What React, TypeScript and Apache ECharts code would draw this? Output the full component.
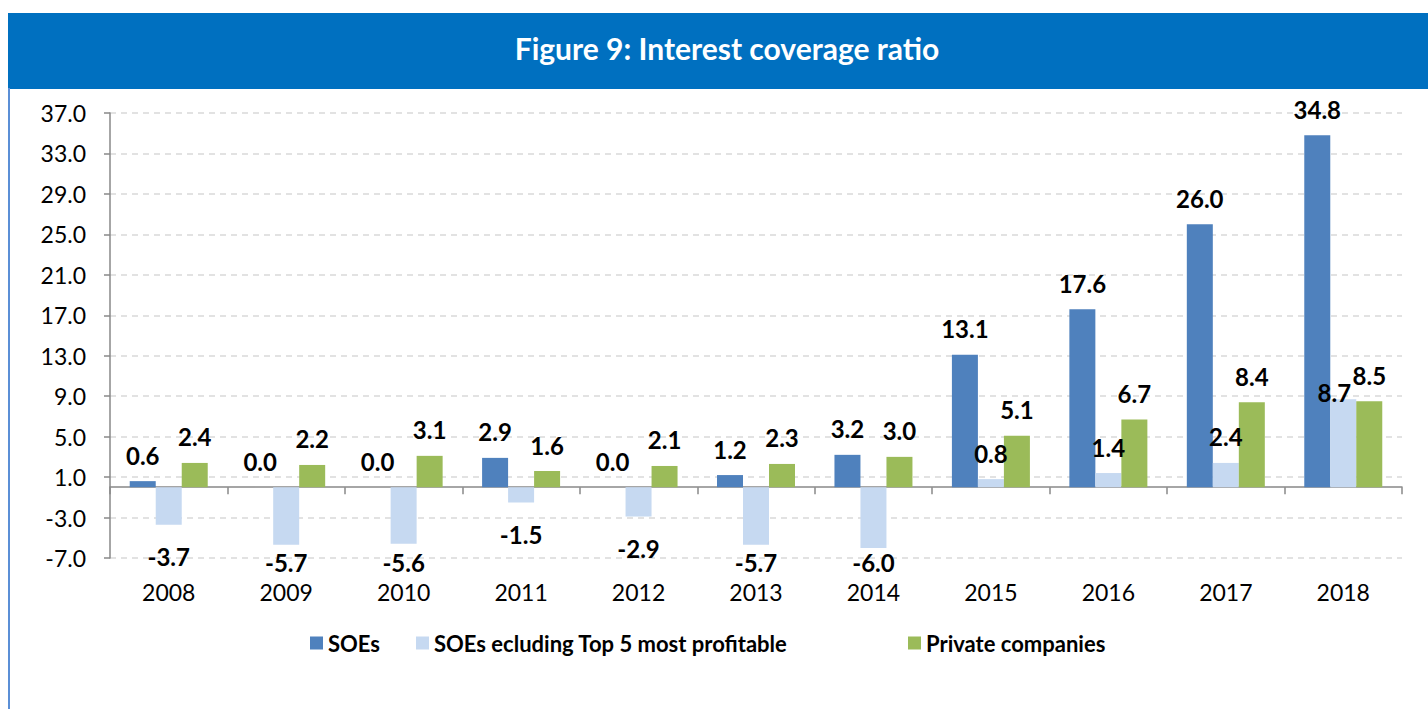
import React, { useEffect, useRef } from "react";
import * as echarts from "echarts";

const years = ["2008", "2009", "2010", "2011", "2012", "2013", "2014", "2015", "2016", "2017", "2018"];
const soes = [0.6, 0.0, 0.0, 2.9, 0.0, 1.2, 3.2, 13.1, 17.6, 26.0, 34.8];
const soesExTop5 = [-3.7, -5.7, -5.6, -1.5, -2.9, -5.7, -6.0, 0.8, 1.4, 2.4, 8.7];
const privateCos = [2.4, 2.2, 3.1, 1.6, 2.1, 2.3, 3.0, 5.1, 6.7, 8.4, 8.5];
const seriesNames = ["SOEs", "SOEs ecluding Top 5 most profitable", "Private companies"];
const titleText = "Figure 9: Interest coverage ratio";

const FONT = "Lato, 'Open Sans', sans-serif";
const PX_PER_UNIT = 445 / 44;

function labelled(values: number[], seriesIdx: number) {
  return values.map((v, i) => {
    // crowded last category: nudge the light-blue label left and down like the reference
    if (seriesIdx === 1 && i === values.length - 1) {
      return { value: v, label: { position: "top", distance: -5, offset: [-9, 0] } };
    }
    if (v >= 0) {
      return { value: v, label: { position: "top", distance: 14 } };
    }
    const centerVal = Math.max(v - 3.1, -7.3);
    const dist = Math.max(0, (v - centerVal) * PX_PER_UNIT - 11);
    return { value: v, label: { position: "bottom", distance: dist } };
  });
}

export default function App() {
  const ref = useRef<HTMLDivElement>(null);
  useEffect(() => {
    if (!ref.current) return;
    const chart = echarts.init(ref.current, null, { renderer: "svg" });
    const labelStyle = {
      show: true,
      fontFamily: FONT,
      fontSize: 24,
      fontWeight: "bold",
      color: "#000",
      formatter: (p: any) => Number(p.value).toFixed(1),
    };
    const colors = ["#4F81BD", "#C6D9F1", "#9BBB59"];
    const datasets = [soes, soesExTop5, privateCos];
    const legendLeft = [305, 411, 903];
    const legendStyle = { fontFamily: FONT, fontSize: 22, fontWeight: "bold", color: "#000" };
    chart.setOption({
      animation: false,
      backgroundColor: "#fff",
      title: {
        text: titleText,
        left: 722,
        textAlign: "center",
        top: 28,
        textStyle: { color: "#fff", fontFamily: FONT, fontSize: 30, fontWeight: "bold" },
      },
      graphic: [
        { type: "rect", z: -1, shape: { x: 8, y: 13, width: 1420, height: 76 }, style: { fill: "#0070C0" } },
        { type: "line", shape: { x1: 9, y1: 88, x2: 9, y2: 709 }, style: { stroke: "#5B8FD6", lineWidth: 2 } },
      ],
      legend: seriesNames.map((n, i) => ({
        left: legendLeft[i],
        top: 627,
        icon: "rect",
        itemWidth: 13,
        itemHeight: 13,
        itemGap: 10,
        textStyle: legendStyle,
        data: [n],
      })),
      grid: { left: 110, right: 26, top: 113, bottom: 151 },
      xAxis: [
        {
          type: "category",
          data: years,
          axisLine: { show: false, onZero: false },
          axisTick: { show: false },
          axisLabel: { margin: 22, fontFamily: FONT, fontSize: 23, color: "#000" },
        },
        {
          type: "category",
          data: years,
          position: "bottom",
          axisLine: { show: true, onZero: true, lineStyle: { color: "#888", width: 1.5 } },
          axisTick: { show: true, length: 7, lineStyle: { color: "#888", width: 1.5 } },
          axisLabel: { show: false },
        },
      ],
      yAxis: {
        type: "value",
        min: -7,
        max: 37,
        interval: 4,
        axisLine: { show: true, lineStyle: { color: "#888", width: 1.5 } },
        axisTick: { show: true, length: 6, lineStyle: { color: "#888", width: 1.5 } },
        axisLabel: {
          margin: 24,
          fontFamily: FONT,
          fontSize: 23,
          color: "#000",
          formatter: (v: number) => v.toFixed(1),
        },
        splitLine: { show: true, lineStyle: { color: "#D9D9D9", width: 1.5, type: [6, 5] } },
      },
      series: datasets.map((d, i) => ({
        name: seriesNames[i],
        type: "bar",
        xAxisIndex: 0,
        barWidth: 26,
        barGap: "0%",
        itemStyle: { color: colors[i] },
        label: labelStyle,
        data: labelled(d, i),
      })),
    });
    return () => chart.dispose();
  }, []);
  return <div ref={ref} style={{ position: "fixed", left: 0, top: 0, width: 1428, height: 709 }} />;
}
